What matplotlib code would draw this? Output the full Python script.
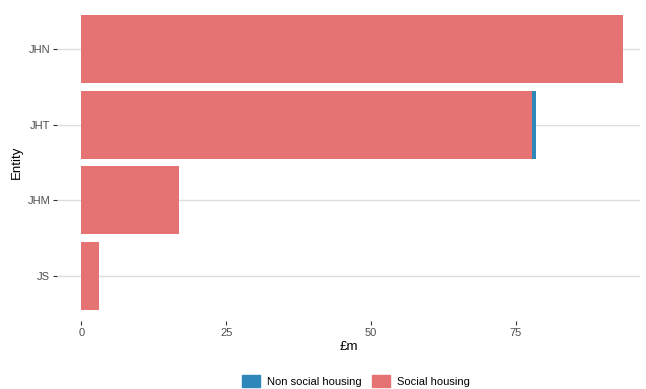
import matplotlib
matplotlib.use("Agg")
import matplotlib.pyplot as plt
from matplotlib.patches import Patch

plt.rcParams["font.family"] = ["Liberation Sans", "DejaVu Sans"]

entities = ["JHN", "JHT", "JHM", "JS"]
social = [93.4, 77.8, 16.9, 3.1]
non_social = [0.0, 0.7, 0.0, 0.0]

c_social = "#E57373"
c_non = "#2E86B9"

fig = plt.figure(figsize=(6.46, 3.89), dpi=100)
ax = fig.add_axes([57/646, 1 - 321/389, (640-57)/646, (321-4)/389])

ypos = list(range(len(entities)))[::-1]
ax.barh(ypos, social, height=0.9, color=c_social, zorder=2)
ax.barh(ypos, non_social, left=social, height=0.9, color=c_non, zorder=2)

ax.set_xlim(-4.2, 96.4)
ax.set_ylim(-0.6, 3.6)
ax.set_yticks(ypos)
ax.set_yticklabels(entities)
ax.set_xticks([0, 25, 50, 75])
ax.grid(axis="y", color="#DDDDDD", linewidth=1.0, zorder=0)
ax.grid(axis="x", visible=False)
for s in ax.spines.values():
    s.set_visible(False)
ax.tick_params(axis="both", colors="#333333", labelcolor="#4D4D4D", labelsize=8,
               length=3, width=0.8, pad=2)

ax.set_xlabel("£m", fontsize=9.5, color="black", labelpad=2)
ax.set_ylabel("Entity", fontsize=9.5, color="black", labelpad=3)

handles = [Patch(color=c_non, label="Non social housing"),
           Patch(color=c_social, label="Social housing")]
fig.legend(handles=handles, loc="center", bbox_to_anchor=(356/646, 1 - 381/389),
           ncol=2, frameon=False, fontsize=8, handlelength=1.6, handleheight=1.3,
           columnspacing=1.0, handletextpad=0.6)

fig.savefig("out.png", dpi=100)
